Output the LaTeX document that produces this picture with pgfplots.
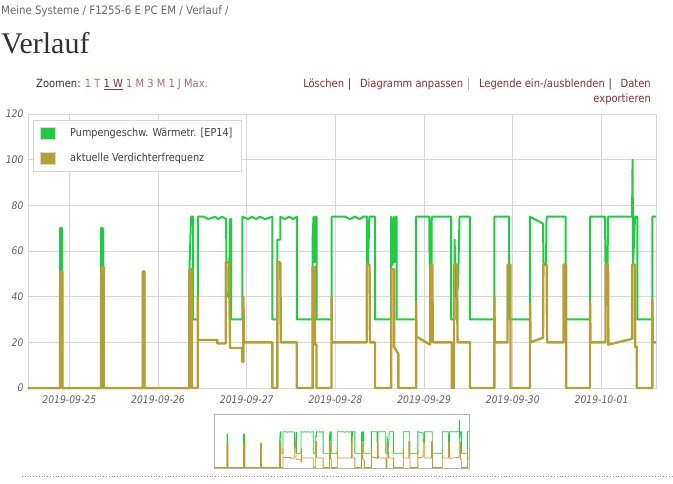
\documentclass[border=0pt]{standalone}
\usepackage{fontspec}
\setmainfont[FakeStretch=0.88]{DejaVu Sans}
\newfontfamily\serifh{Liberation Serif}
\usepackage{pgfplots}
\pgfplotsset{compat=1.18}
\usepackage{pgfplotstable}
\definecolor{pgreen}{RGB}{30,205,65}
\definecolor{polive}{RGB}{182,160,52}
\definecolor{linkred}{RGB}{140,45,45}
\definecolor{linklight}{RGB}{185,105,105}
\definecolor{gridc}{RGB}{216,216,216}
\definecolor{tickc}{RGB}{95,95,95}
\definecolor{darkt}{RGB}{50,50,50}

\pgfplotstableread{
d v
-0.466 0
-0.105 0
-0.105 70
-0.082 70
-0.082 0
0.357 0
0.357 70
0.380 70
0.380 0
0.828 0
0.828 51
0.846 51
0.846 0
1.353 0
1.353 50
1.372 75
1.395 75
1.395 30
1.448 30
1.448 75
1.519 75
1.564 74
1.609 74.5
1.643 75
1.676 74
1.722 75
1.767 74
1.775 40
1.800 42
1.812 74
1.823 74
1.823 30
1.950 30
1.950 75
2.015 74
2.060 75
2.105 74
2.150 75
2.206 74
2.289 75
2.289 30
2.345 30
2.345 65
2.379 65
2.379 75
2.432 74
2.477 75
2.522 74
2.564 75
2.564 30
2.742 30
2.742 65
2.753 75
2.764 55
2.776 75
2.787 75
2.787 30
2.956 30
2.956 75
3.108 75
3.165 74
3.221 75
3.277 74
3.311 75
3.353 75
3.353 54
3.368 54
3.382 75
3.446 75
3.446 30
3.627 30
3.627 75
3.644 54
3.655 75
3.666 55
3.678 75
3.691 75
3.691 30
3.909 30
3.909 75
4.059 75
4.061 54
4.083 54
4.086 75
4.303 75
4.303 30
4.343 30
4.343 65
4.360 40
4.382 45
4.399 75
4.517 75
4.517 30
4.791 30
4.791 75
4.957 75
4.957 30
5.194 30
5.194 75
5.340 72
5.346 54
5.374 54
5.380 75
5.596 75
5.596 30
5.870 30
5.870 75
6.039 75
6.045 54
6.068 54
6.073 75
6.344 75
6.350 100
6.355 54
6.378 75
6.404 75
6.404 30
6.573 30
6.573 75
6.614 75
}\greentab

\pgfplotstableread{
d v
-0.466 0
-0.105 0
-0.105 40
-0.099 51
-0.077 51
-0.077 0
0.357 0
0.357 48
0.369 53
0.391 53
0.391 0
0.828 0
0.828 51
0.846 51
0.846 0
1.353 0
1.353 50
1.361 52
1.383 52
1.383 0
1.448 0
1.448 40
1.451 21
1.669 21
1.669 19.5
1.763 19.5
1.763 55
1.800 55
1.812 17.5
1.950 17.5
1.950 11.5
1.962 11.5
1.962 40
1.970 20
2.289 20
2.289 0
2.345 0
2.345 55
2.379 55
2.384 20
2.564 20
2.564 0
2.742 0
2.742 53
2.770 53
2.770 19
2.787 19
2.787 0
2.956 0
2.956 40
2.962 20
3.353 20
3.353 54
3.384 54
3.390 20
3.446 20
3.446 0
3.627 0
3.627 52
3.661 52
3.661 18
3.709 15
3.709 0
3.909 0
3.909 38
3.914 22.5
4.067 19
4.067 54
4.092 54
4.098 20
4.311 20
4.311 0
4.337 0
4.337 54
4.371 54
4.377 20
4.517 20
4.517 0
4.791 0
4.791 40
4.797 20
4.940 20
4.940 54
4.974 54
4.974 0
5.194 0
5.194 37
5.200 20
5.340 22
5.344 54
5.382 54
5.386 20
5.572 20
5.572 54
5.600 54
5.600 0
5.870 0
5.870 38
5.876 20
6.045 20
6.045 54
6.073 54
6.077 19
6.344 21.5
6.344 54
6.378 54
6.378 18
6.397 18
6.397 0
6.573 0
6.573 38.5
6.578 20
6.614 20
}\olivetab

\begin{document}
\begin{tikzpicture}
\useasboundingbox (0pt,0pt) rectangle (673pt,483pt);
% header
\node[anchor=base west, inner sep=0, text=black!60, font=\fontsize{11.6}{14}\selectfont] at (1pt,468pt) {Meine Systeme / F1255-6 E PC EM / Verlauf /};
\node[anchor=base west, inner sep=0, text=darkt, font=\serifh\fontsize{30}{34}\selectfont] at (1pt,429pt) {Verlauf};
\node[anchor=base west, inner sep=0, font=\fontsize{11.3}{13}\selectfont] at (36pt,395pt) {\textcolor{darkt}{Zoomen:} \textcolor{linklight}{1 T} \textcolor{linkred}{\underline{1 W}} \textcolor{linklight}{1 M 3 M 1 J Max.}};
\node[anchor=base east, inner sep=0, font=\fontsize{11.3}{13}\selectfont] at (651pt,395pt) {\textcolor{linkred}{Löschen}\textcolor{darkt}{\,\,|}\,\,\, \textcolor{linkred}{Diagramm anpassen}\textcolor{black!40}{\,\,|}\,\,\, \textcolor{linkred}{Legende ein-/ausblenden}\textcolor{darkt}{\,\,|}\,\,\, \textcolor{linkred}{Daten}};
\node[anchor=base east, inner sep=0, font=\fontsize{11.3}{13}\selectfont, text=linkred] at (651pt,380pt) {exportieren};

\begin{axis}[
  at={(28pt,95pt)}, anchor=south west,
  width=628pt, height=274pt, scale only axis,
  xmin=-0.466, xmax=6.614, ymin=0, ymax=120,
  xtick={0,1,2,3,4,5,6},
  xticklabels={2019-09-25,2019-09-26,2019-09-27,2019-09-28,2019-09-29,2019-09-30,2019-10-01},
  ytick={0,20,40,60,80,100,120},
  grid=major, grid style={gridc, line width=0.8pt},
  axis line style={gridc, line width=0.8pt},
  major tick length=0pt,
  /pgf/number format/assume math mode=true,
  tick label style={font=\itshape\fontsize{10.5}{12}\selectfont, text=tickc},
  yticklabel style={xshift=-1pt},
  xticklabel style={yshift=-4pt},
  clip=false,
  legend cell align=left,
  legend style={at={(rel axis cs:0.008,0.978)}, anchor=north west,
    draw=gridc, fill=white, font=\fontsize{11}{13}\selectfont, text=black!75,
    inner xsep=7pt, inner ysep=6pt, row sep=11pt, column sep=12pt},
]
\addplot[pgreen, line width=2pt, line join=round,
  legend image code/.code={\draw[draw=gridc, fill=pgreen, line width=1pt] (0pt,-6pt) rectangle (15pt,6pt);}]
  table[x=d, y=v] {\greentab};
\addlegendentry{Pumpengeschw. Wärmetr. [EP14]}
\addplot[polive, line width=2.4pt, line join=round,
  legend image code/.code={\draw[draw=gridc, fill=polive, line width=1pt] (0pt,-6pt) rectangle (15pt,6pt);}]
  table[x=d, y=v] {\olivetab};
\addlegendentry{aktuelle Verdichterfrequenz}
\end{axis}

\begin{axis}[
  at={(214pt,15pt)}, anchor=south west,
  width=255pt, height=54pt, scale only axis,
  xmin=-0.466, xmax=6.614, ymin=-1, ymax=112,
  xtick=\empty, ytick=\empty,
  axis line style={black!30, line width=0.8pt},
]
\addplot[pgreen, line width=0.8pt] table[x=d, y=v] {\greentab};
\addplot[polive!80!orange, line width=0.8pt] table[x=d, y=v] {\olivetab};
\end{axis}

\draw[black!40, dotted, line width=0.8pt] (22pt,7pt) -- (673pt,7pt);
\end{tikzpicture}
\end{document}
